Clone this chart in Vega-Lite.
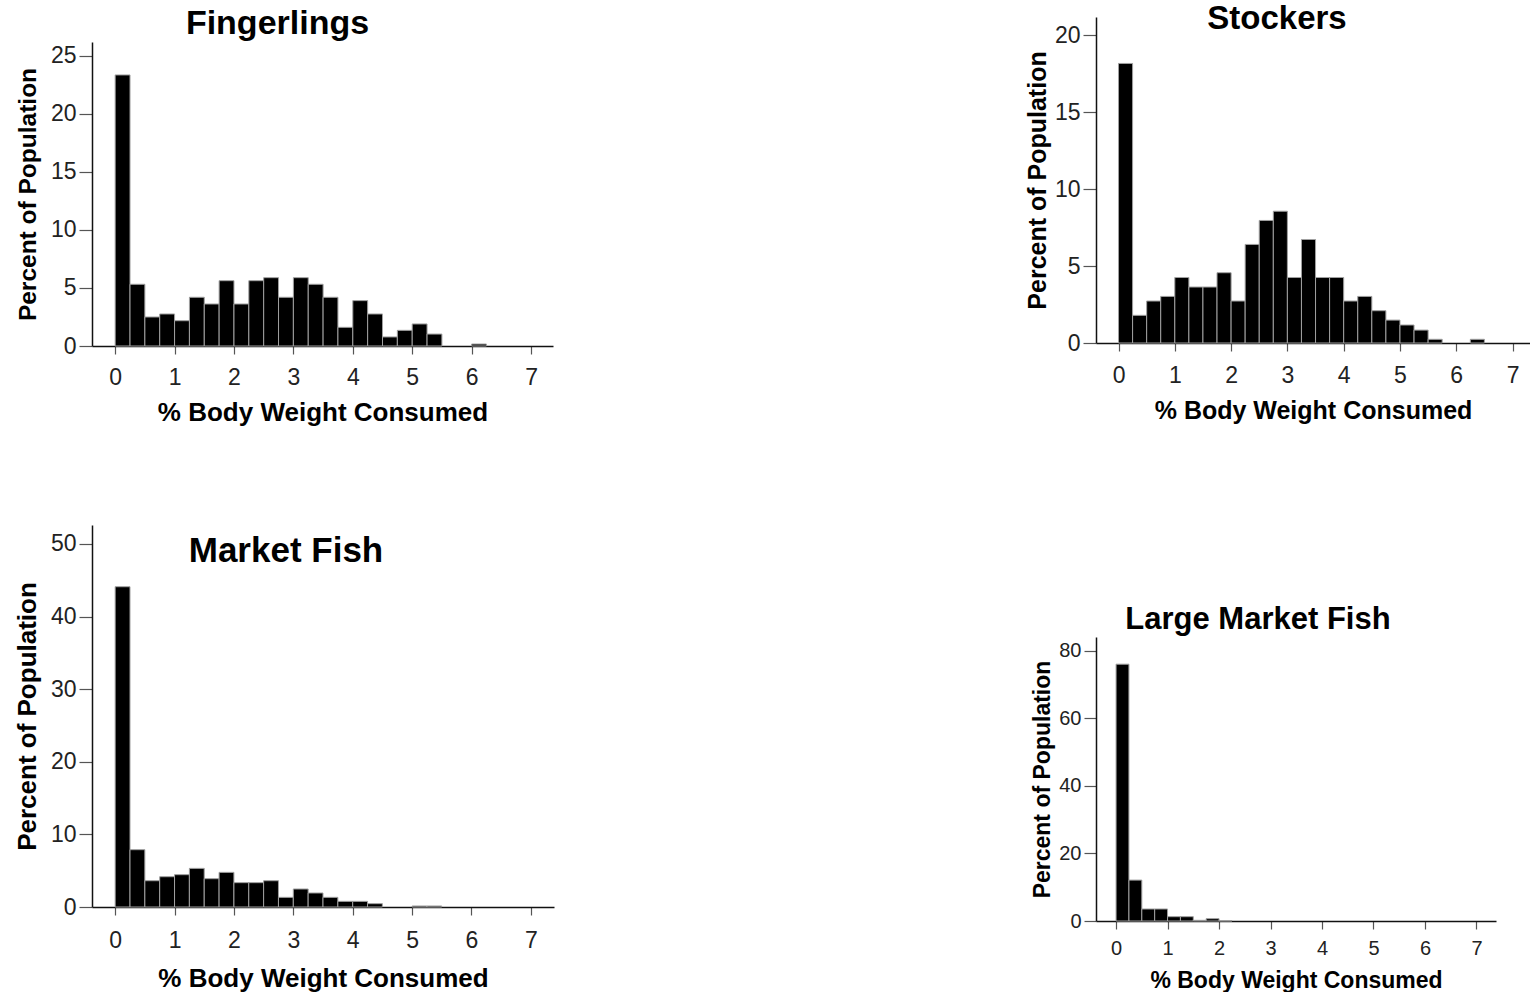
{
  "$schema": "https://vega.github.io/schema/vega-lite/v6.json",
  "padding": {"left": 14, "top": 0, "right": 0, "bottom": 0},
  "background": "white",
  "spacing": 471,
  "datasets": {
    "bars": [
      {"panel": "Fingerlings", "lo": 0, "hi": 0.25, "pct": 23.36},
      {"panel": "Fingerlings", "lo": 0.25, "hi": 0.5, "pct": 5.32},
      {"panel": "Fingerlings", "lo": 0.5, "hi": 0.75, "pct": 2.5},
      {"panel": "Fingerlings", "lo": 0.75, "hi": 1.0, "pct": 2.76},
      {"panel": "Fingerlings", "lo": 1.0, "hi": 1.25, "pct": 2.18},
      {"panel": "Fingerlings", "lo": 1.25, "hi": 1.5, "pct": 4.2},
      {"panel": "Fingerlings", "lo": 1.5, "hi": 1.75, "pct": 3.62},
      {"panel": "Fingerlings", "lo": 1.75, "hi": 2.0, "pct": 5.63},
      {"panel": "Fingerlings", "lo": 2.0, "hi": 2.25, "pct": 3.62},
      {"panel": "Fingerlings", "lo": 2.25, "hi": 2.5, "pct": 5.63},
      {"panel": "Fingerlings", "lo": 2.5, "hi": 2.75, "pct": 5.89},
      {"panel": "Fingerlings", "lo": 2.75, "hi": 3.0, "pct": 4.2},
      {"panel": "Fingerlings", "lo": 3.0, "hi": 3.25, "pct": 5.89},
      {"panel": "Fingerlings", "lo": 3.25, "hi": 3.5, "pct": 5.32},
      {"panel": "Fingerlings", "lo": 3.5, "hi": 3.75, "pct": 4.2},
      {"panel": "Fingerlings", "lo": 3.75, "hi": 4.0, "pct": 1.61},
      {"panel": "Fingerlings", "lo": 4.0, "hi": 4.25, "pct": 3.91},
      {"panel": "Fingerlings", "lo": 4.25, "hi": 4.5, "pct": 2.76},
      {"panel": "Fingerlings", "lo": 4.5, "hi": 4.75, "pct": 0.78},
      {"panel": "Fingerlings", "lo": 4.75, "hi": 5.0, "pct": 1.35},
      {"panel": "Fingerlings", "lo": 5.0, "hi": 5.25, "pct": 1.9},
      {"panel": "Fingerlings", "lo": 5.25, "hi": 5.5, "pct": 1.03},
      {"panel": "Fingerlings", "lo": 6.0, "hi": 6.25, "pct": 0.17},
      {"panel": "Stockers", "lo": 0, "hi": 0.25, "pct": 18.18},
      {"panel": "Stockers", "lo": 0.25, "hi": 0.5, "pct": 1.8},
      {"panel": "Stockers", "lo": 0.5, "hi": 0.75, "pct": 2.73},
      {"panel": "Stockers", "lo": 0.75, "hi": 1.0, "pct": 3.03},
      {"panel": "Stockers", "lo": 1.0, "hi": 1.25, "pct": 4.26},
      {"panel": "Stockers", "lo": 1.25, "hi": 1.5, "pct": 3.64},
      {"panel": "Stockers", "lo": 1.5, "hi": 1.75, "pct": 3.64},
      {"panel": "Stockers", "lo": 1.75, "hi": 2.0, "pct": 4.57},
      {"panel": "Stockers", "lo": 2.0, "hi": 2.25, "pct": 2.73},
      {"panel": "Stockers", "lo": 2.25, "hi": 2.5, "pct": 6.41},
      {"panel": "Stockers", "lo": 2.5, "hi": 2.75, "pct": 7.97},
      {"panel": "Stockers", "lo": 2.75, "hi": 3.0, "pct": 8.57},
      {"panel": "Stockers", "lo": 3.0, "hi": 3.25, "pct": 4.26},
      {"panel": "Stockers", "lo": 3.25, "hi": 3.5, "pct": 6.73},
      {"panel": "Stockers", "lo": 3.5, "hi": 3.75, "pct": 4.26},
      {"panel": "Stockers", "lo": 3.75, "hi": 4.0, "pct": 4.26},
      {"panel": "Stockers", "lo": 4.0, "hi": 4.25, "pct": 2.73},
      {"panel": "Stockers", "lo": 4.25, "hi": 4.5, "pct": 3.03},
      {"panel": "Stockers", "lo": 4.5, "hi": 4.75, "pct": 2.1},
      {"panel": "Stockers", "lo": 4.75, "hi": 5.0, "pct": 1.49},
      {"panel": "Stockers", "lo": 5.0, "hi": 5.25, "pct": 1.17},
      {"panel": "Stockers", "lo": 5.25, "hi": 5.5, "pct": 0.84},
      {"panel": "Stockers", "lo": 5.5, "hi": 5.75, "pct": 0.24},
      {"panel": "Stockers", "lo": 6.25, "hi": 6.5, "pct": 0.24},
      {"panel": "Market Fish", "lo": 0, "hi": 0.25, "pct": 44.1},
      {"panel": "Market Fish", "lo": 0.25, "hi": 0.5, "pct": 7.89},
      {"panel": "Market Fish", "lo": 0.5, "hi": 0.75, "pct": 3.62},
      {"panel": "Market Fish", "lo": 0.75, "hi": 1.0, "pct": 4.17},
      {"panel": "Market Fish", "lo": 1.0, "hi": 1.25, "pct": 4.45},
      {"panel": "Market Fish", "lo": 1.25, "hi": 1.5, "pct": 5.32},
      {"panel": "Market Fish", "lo": 1.5, "hi": 1.75, "pct": 3.9},
      {"panel": "Market Fish", "lo": 1.75, "hi": 2.0, "pct": 4.77},
      {"panel": "Market Fish", "lo": 2.0, "hi": 2.25, "pct": 3.35},
      {"panel": "Market Fish", "lo": 2.25, "hi": 2.5, "pct": 3.35},
      {"panel": "Market Fish", "lo": 2.5, "hi": 2.75, "pct": 3.62},
      {"panel": "Market Fish", "lo": 2.75, "hi": 3.0, "pct": 1.33},
      {"panel": "Market Fish", "lo": 3.0, "hi": 3.25, "pct": 2.48},
      {"panel": "Market Fish", "lo": 3.25, "hi": 3.5, "pct": 1.93},
      {"panel": "Market Fish", "lo": 3.5, "hi": 3.75, "pct": 1.33},
      {"panel": "Market Fish", "lo": 3.75, "hi": 4.0, "pct": 0.78},
      {"panel": "Market Fish", "lo": 4.0, "hi": 4.25, "pct": 0.78},
      {"panel": "Market Fish", "lo": 4.25, "hi": 4.5, "pct": 0.46},
      {"panel": "Market Fish", "lo": 5.0, "hi": 5.25, "pct": 0.14},
      {"panel": "Market Fish", "lo": 5.25, "hi": 5.5, "pct": 0.14},
      {"panel": "Large Market Fish", "lo": 0, "hi": 0.25, "pct": 75.96},
      {"panel": "Large Market Fish", "lo": 0.25, "hi": 0.5, "pct": 12.1},
      {"panel": "Large Market Fish", "lo": 0.5, "hi": 0.75, "pct": 3.55},
      {"panel": "Large Market Fish", "lo": 0.75, "hi": 1.0, "pct": 3.55},
      {"panel": "Large Market Fish", "lo": 1.0, "hi": 1.25, "pct": 1.28},
      {"panel": "Large Market Fish", "lo": 1.25, "hi": 1.5, "pct": 1.28},
      {"panel": "Large Market Fish", "lo": 1.5, "hi": 1.75, "pct": 0.2},
      {"panel": "Large Market Fish", "lo": 1.75, "hi": 2.0, "pct": 0.69},
      {"panel": "Large Market Fish", "lo": 2.0, "hi": 2.25, "pct": 0.1}
    ],
    "blank": [{"k": 1}]
  },
  "hconcat": [
    {
      "spacing": 100,
      "vconcat": [
        {
          "spacing": 0,
          "vconcat": [
            {"width": 1, "height": 7, "data": {"name": "blank"}, "mark": {"type": "point", "opacity": 0, "size": 1}},
            {
              "width": 461, "height": 304,
              "data": {"name": "bars"},
              "title": {"text": "Fingerlings", "fontSize": 34, "dx": -45, "offset": -26, "baseline": "alphabetic"},
              "transform": [{"filter": "datum.panel == 'Fingerlings'"}],
              "mark": {"type": "bar", "fill": "#000", "stroke": "#a0a0a0", "strokeWidth": 1},
              "encoding": {
                "x": {"field": "lo", "type": "quantitative", "scale": {"domain": [-0.39, 7.37], "nice": false, "zero": false},
                      "axis": {"values": [0,1,2,3,4,5,6,7], "title": "% Body Weight Consumed", "titleFontSize": 26, "labelFontSize": 23, "tickSize": 8, "labelPadding": 12, "titlePadding": 10, "labelFlush": false}},
                "x2": {"field": "hi"},
                "y": {"field": "pct", "type": "quantitative", "scale": {"domain": [0, 26.2], "nice": false},
                      "axis": {"values": [0,5,10,15,20,25], "title": "Percent of Population", "titleFontSize": 24.5, "labelFontSize": 23, "tickSize": 13, "labelPadding": 3, "titlePadding": 10, "labelFlush": false}},
                "y2": {"datum": 0}
              }
            }
          ]
        },
        {
          "width": 462, "height": 382,
          "data": {"name": "bars"},
          "title": {"text": "Market Fish", "fontSize": 35, "dx": -37, "offset": -72, "baseline": "alphabetic"},
          "transform": [{"filter": "datum.panel == 'Market Fish'"}],
          "mark": {"type": "bar", "fill": "#000", "stroke": "#a0a0a0", "strokeWidth": 1},
          "encoding": {
            "x": {"field": "lo", "type": "quantitative", "scale": {"domain": [-0.39, 7.39], "nice": false, "zero": false},
                  "axis": {"values": [0,1,2,3,4,5,6,7], "title": "% Body Weight Consumed", "titleFontSize": 26, "labelFontSize": 23, "tickSize": 8, "labelPadding": 14, "titlePadding": 13, "labelFlush": false}},
            "x2": {"field": "hi"},
            "y": {"field": "pct", "type": "quantitative", "scale": {"domain": [0, 52.6], "nice": false},
                  "axis": {"values": [0,10,20,30,40,50], "title": "Percent of Population", "titleFontSize": 26, "labelFontSize": 23, "tickSize": 13, "labelPadding": 3, "titlePadding": 10, "labelFlush": false}},
            "y2": {"datum": 0}
          }
        }
      ]
    },
    {
      "spacing": 181,
      "vconcat": [
        {
          "spacing": 0,
          "vconcat": [
            {"width": 1, "height": 3, "data": {"name": "blank"}, "mark": {"type": "point", "opacity": 0, "size": 1}},
            {
              "width": 434, "height": 326,
              "data": {"name": "bars"},
              "title": {"text": "Stockers", "fontSize": 33, "dx": -36, "offset": -45, "baseline": "alphabetic"},
              "transform": [{"filter": "datum.panel == 'Stockers'"}],
              "mark": {"type": "bar", "fill": "#000", "stroke": "#a0a0a0", "strokeWidth": 1},
              "encoding": {
                "x": {"field": "lo", "type": "quantitative", "scale": {"domain": [-0.4, 7.31], "nice": false, "zero": false},
                      "axis": {"values": [0,1,2,3,4,5,6,7], "title": "% Body Weight Consumed", "titleFontSize": 25, "labelFontSize": 23, "tickSize": 8, "labelPadding": 13, "titlePadding": 11, "labelFlush": false}},
                "x2": {"field": "hi"},
                "y": {"field": "pct", "type": "quantitative", "scale": {"domain": [0, 21.2], "nice": false},
                      "axis": {"values": [0,5,10,15,20], "title": "Percent of Population", "titleFontSize": 25, "labelFontSize": 23, "tickSize": 13, "labelPadding": 3, "titlePadding": 4, "labelFlush": false}},
                "y2": {"datum": 0}
              }
            }
          ]
        },
        {
          "width": 400, "height": 284,
          "data": {"name": "bars"},
          "title": {"text": "Large Market Fish", "fontSize": 31, "dx": -38, "offset": -23, "baseline": "alphabetic"},
          "transform": [{"filter": "datum.panel == 'Large Market Fish'"}],
          "mark": {"type": "bar", "fill": "#000", "stroke": "#a0a0a0", "strokeWidth": 1},
          "encoding": {
            "x": {"field": "lo", "type": "quantitative", "scale": {"domain": [-0.39, 7.38], "nice": false, "zero": false},
                  "axis": {"values": [0,1,2,3,4,5,6,7], "title": "% Body Weight Consumed", "titleFontSize": 23, "labelFontSize": 20, "tickSize": 8, "labelPadding": 9, "titlePadding": 11, "labelFlush": false}},
            "x2": {"field": "hi"},
            "y": {"field": "pct", "type": "quantitative", "scale": {"domain": [0, 84], "nice": false},
                  "axis": {"values": [0,20,40,60,80], "title": "Percent of Population", "titleFontSize": 23, "labelFontSize": 20, "tickSize": 12, "labelPadding": 3, "titlePadding": 4, "labelFlush": false}},
            "y2": {"datum": 0}
          }
        }
      ]
    }
  ],
  "config": {
    "view": {"stroke": null},
    "font": "Liberation Sans",
    "axis": {"grid": false, "domainColor": "#111", "domainWidth": 1.5, "tickColor": "#555", "tickWidth": 1.2, "labelColor": "#222", "labelFont": "Liberation Sans", "titleFont": "Liberation Sans", "titleFontWeight": "bold", "titleColor": "#000"},
    "title": {"font": "Liberation Sans", "fontWeight": "bold", "color": "#000", "anchor": "middle"}
  }
}
